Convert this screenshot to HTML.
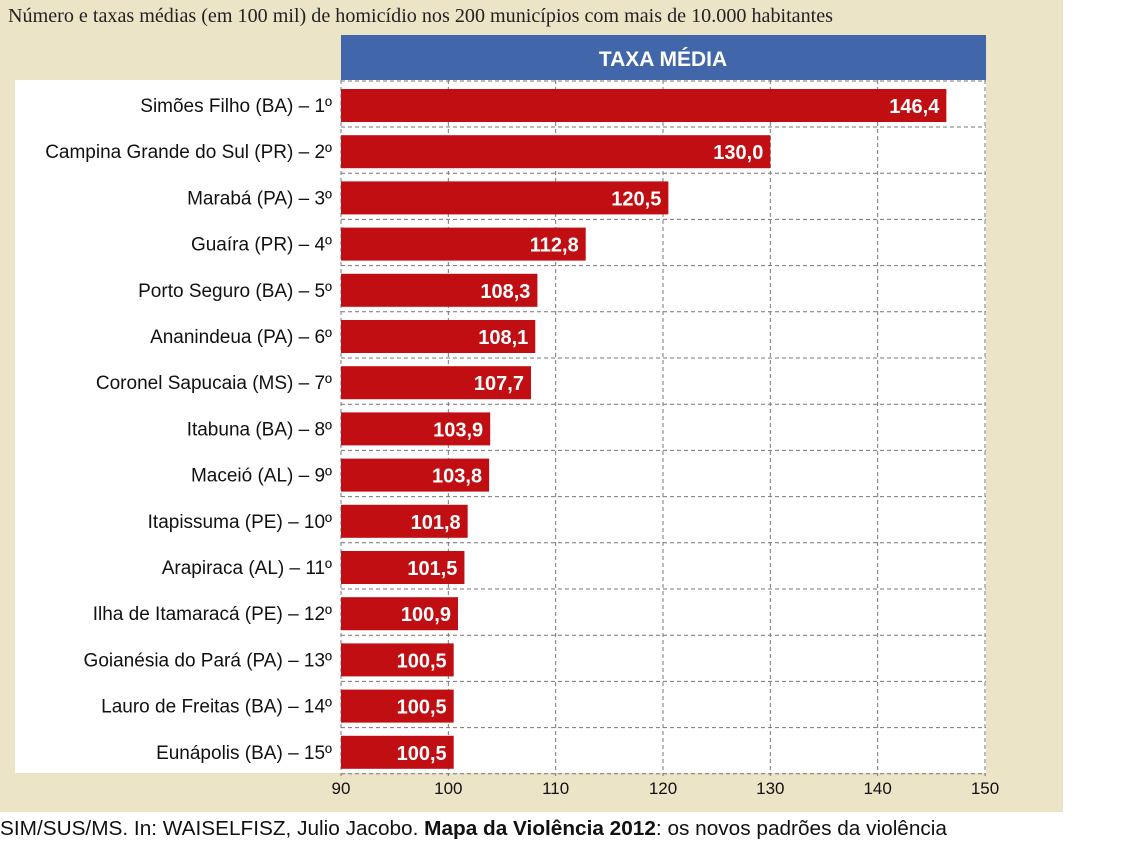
<!DOCTYPE html>
<html><head><meta charset="utf-8"><style>
body{margin:0;width:1140px;height:843px;background:#fff;overflow:hidden;font-family:"Liberation Sans",sans-serif}
</style></head><body>
<svg width="1140" height="843">
<rect x="0" y="0" width="1063" height="812" fill="#ebe4c6"/>
<text x="8" y="22" font-family="Liberation Serif" font-size="19.5" fill="#222" textLength="825" lengthAdjust="spacingAndGlyphs">Número e taxas médias (em 100 mil) de homicídio nos 200 municípios com mais de 10.000 habitantes</text>
<rect x="15" y="80" width="971" height="693" fill="#fff"/>
<rect x="341" y="35" width="645" height="45" fill="#4166aa"/>
<text x="663" y="66" text-anchor="middle" font-size="21" font-weight="bold" fill="#fff">TAXA MÉDIA</text>
<g id="grid"></g><g id="bars"></g><g id="ticks"></g>
<text x="0" y="835" font-size="20" fill="#111" textLength="947" lengthAdjust="spacingAndGlyphs">SIM/SUS/MS. In: WAISELFISZ, Julio Jacobo. <tspan font-weight="bold">Mapa da Violência 2012</tspan>: os novos padrões da violência</text>
</svg>
<script>
const categories=["Simões Filho (BA) – 1º","Campina Grande do Sul (PR) – 2º","Marabá (PA) – 3º","Guaíra (PR) – 4º","Porto Seguro (BA) – 5º","Ananindeua (PA) – 6º","Coronel Sapucaia (MS) – 7º","Itabuna (BA) – 8º","Maceió (AL) – 9º","Itapissuma (PE) – 10º","Arapiraca (AL) – 11º","Ilha de Itamaracá (PE) – 12º","Goianésia do Pará (PA) – 13º","Lauro de Freitas (BA) – 14º","Eunápolis (BA) – 15º"];
const values=[146.4,130.0,120.5,112.8,108.3,108.1,107.7,103.9,103.8,101.8,101.5,100.9,100.5,100.5,100.5];
const ticks=[90,100,110,120,130,140,150];
const NS="http://www.w3.org/2000/svg";
const x=v=>341+(v-90)*(644/60);
const y=i=>89+i*46.2;
function mk(t,a,p){const e=document.createElementNS(NS,t);for(const k in a)e.setAttribute(k,a[k]);p.appendChild(e);return e;}
const g=document.getElementById('grid'),b=document.getElementById('bars'),tk=document.getElementById('ticks');
ticks.forEach(t=>{
 const l=mk('line',{x1:x(t),x2:x(t),y1:80,y2:776,stroke:'#777','stroke-dasharray':'4,3','stroke-width':1},g);
 
 
 const tx=mk('text',{x:x(t),y:794,'text-anchor':'middle','font-size':17,fill:'#111'},tk);
 tx.textContent=t;
 
 
});
for(let i=0;i<=categories.length;i++){
 const yy=(i==0?81:y(i-1)+38);
 const l=mk('line',{x1:341,x2:986,y1:yy,y2:yy,stroke:'#777','stroke-dasharray':'4,3','stroke-width':1},g);
 
 
}
categories.forEach((c,i)=>{
 const r=mk('rect',{x:341,y:y(i),width:x(values[i])-341,height:33,fill:'#c00e12'},b);
 
 
 const v=mk('text',{x:x(values[i])-7,y:y(i)+24,'text-anchor':'end','font-size':20,'font-weight':'bold',fill:'#fff'},b);
 v.textContent=values[i].toFixed(1).replace('.',',');
 
 
 const lb=mk('text',{x:332,y:y(i)+23,'text-anchor':'end','font-size':19,fill:'#111'},b);
 lb.textContent=c;
 
 
});
</script>
</body></html>
